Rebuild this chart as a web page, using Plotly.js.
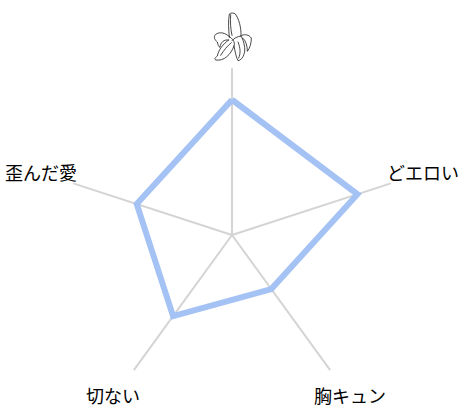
<!DOCTYPE html>
<html><head><meta charset="utf-8">
<script src="https://cdn.plot.ly/plotly-3.0.1.min.js"></script>
<style>html,body{margin:0;padding:0;background:#fff}</style></head>
<body><div id="c" style="width:465px;height:409px"></div>
<script>
var categories = ['banana','どエロい','胸キュン','切ない','歪んだ愛'];
var tickLabels = ['どエロい','胸キュン','切ない','歪んだ愛'];
var values = [0.81,0.79,0.40,0.60,0.60];
var labelX = [423,349.5,113,41];
var labelY = [172,395,395,172];
var bananaSvg = '<svg xmlns="http://www.w3.org/2000/svg" viewBox="0 0 132 162"><g fill="none" stroke="#1a1a1a" stroke-width="2.4" stroke-linejoin="round" stroke-linecap="round">'
+'<path d="M58 82C56 60 54 35 58 12C62 8 72 8 76 12C86 26 94 50 93 78"/>'
+'<path d="M62 14C60 34 62 58 66 76"/>'
+'<path d="M58 80C46 68 28 64 16 74C10 80 14 90 22 96C24 106 26 110 30 112C32 96 42 88 56 90"/>'
+'<path d="M56 90C40 102 26 118 22 138C14 144 12 148 18 150C42 154 62 134 72 108C76 96 68 86 58 80"/>'
+'<path d="M32 136C42 120 52 108 64 98"/>'
+'<path d="M93 78C82 80 72 84 66 92"/>'
+'<path d="M72 108C76 126 78 142 84 152C96 150 106 134 104 112C102 98 98 84 93 78"/>'
+'<path d="M86 144C92 130 92 116 84 96"/>'
+'<path d="M96 76C106 72 116 74 124 84C124 100 120 114 112 124C112 108 108 92 98 84"/>'
+'</g></svg>';
var data = [{
  type:'scatterpolar', mode:'lines',
  r: values.concat(values[0]),
  theta: categories.concat(categories[0]),
  line:{color:'#a4c2f4',width:6},
  hoverinfo:'skip', showlegend:false
}];
var annotations = tickLabels.map(function(t,i){
  return {text:t,xref:'paper',yref:'paper',x:labelX[i]/465,y:1-labelY[i]/409,
    xanchor:'center',yanchor:'middle',showarrow:false,borderpad:0,
    font:{size:18,color:'#000'}};
});
var layout = {
  width:465,height:409,margin:{l:0,r:0,t:0,b:0},
  paper_bgcolor:'#fff',showlegend:false,
  font:{family:'"Noto Sans CJK JP","Noto Sans",sans-serif',size:18,color:'#000'},
  polar:{
    domain:{x:[65/465,399/465],y:[1-402/409,1-68/409]},
    bgcolor:'rgba(0,0,0,0)',
    radialaxis:{range:[0,1],visible:false,showgrid:false,showline:false},
    angularaxis:{type:'category',categoryorder:'array',categoryarray:categories,
      direction:'clockwise',rotation:90,
      showgrid:true,gridcolor:'#d4d4d4',gridwidth:2,showline:false,
      ticks:'',showticklabels:false}
  },
  annotations:annotations,
  images:[{source:'data:image/svg+xml;charset=utf-8,'+encodeURIComponent(bananaSvg),
    xref:'paper',yref:'paper',x:210/465,y:1-10/409,sizex:44/465,sizey:54/409,
    xanchor:'left',yanchor:'top',sizing:'stretch',layer:'above'}]
};
Plotly.newPlot('c',data,layout,{displayModeBar:false,staticPlot:true});
</script></body></html>
